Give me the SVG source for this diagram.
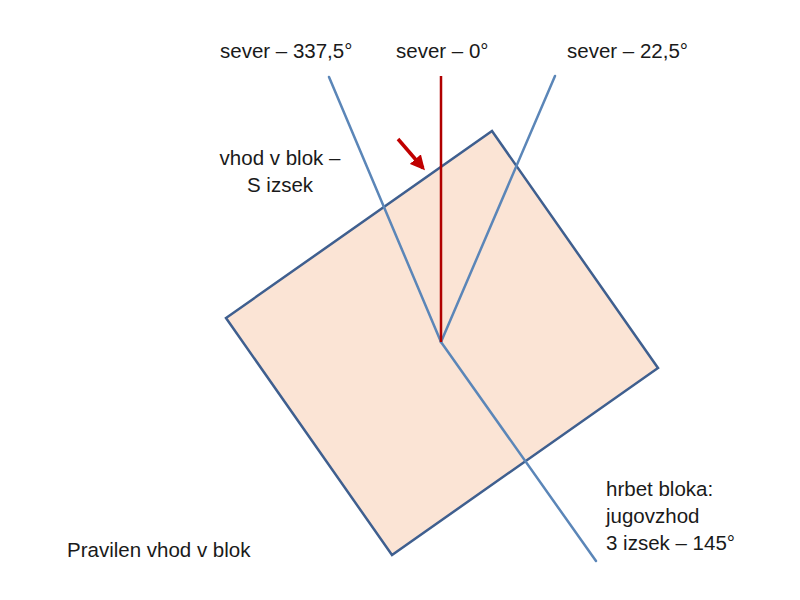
<svg xmlns="http://www.w3.org/2000/svg" width="800" height="600" viewBox="0 0 800 600">
  <style>
    .lbl { font-family: "Liberation Sans", Arial, sans-serif; font-size: 20.5px; fill: #1a1a1a; }
    .blue { stroke: #5b86b8; stroke-width: 2.5; fill: none; stroke-linecap: round; }
    .red { stroke: #b00000; stroke-width: 2.5; fill: none; }
  </style>
  <defs>
    <marker id="arrow" viewBox="0 0 10 10" refX="8" refY="5" markerWidth="4.2" markerHeight="4.2" orient="auto" markerUnits="strokeWidth">
      <path d="M0,0 L10,5 L0,10 Z" fill="#c00000"/>
    </marker>
  </defs>
  <rect width="800" height="600" fill="#ffffff"/>

  <g id="block">
    <polygon points="492,131 658,368 392,555 226,318" fill="#fbe4d5" stroke="#3f5f8f" stroke-width="2.5" stroke-linejoin="miter"/>
  </g>

  <g id="connectors">
    <line id="north-337" class="blue" x1="329" y1="77" x2="441" y2="342"/>
    <line id="north-22" class="blue" x1="555" y1="76" x2="441" y2="342"/>
    <line id="spine-145" class="blue" x1="441" y1="342" x2="596" y2="561"/>
    <line id="north-0" class="red" x1="441" y1="76" x2="441" y2="342"/>
    <line id="entry-arrow" stroke="#c00000" stroke-width="3.5" x1="398" y1="139" x2="423" y2="168" marker-end="url(#arrow)"/>
  </g>

  <g id="label-337">
    <text class="lbl" x="220" y="58">sever – 337,5°</text>
  </g>
  <g id="label-0">
    <text class="lbl" x="396" y="58">sever – 0°</text>
  </g>
  <g id="label-22">
    <text class="lbl" x="567" y="58">sever – 22,5°</text>
  </g>
  <g id="label-entry">
    <text class="lbl" x="280" y="165" text-anchor="middle">vhod v blok –</text>
    <text class="lbl" x="280" y="192" text-anchor="middle">S izsek</text>
  </g>
  <g id="label-spine">
    <text class="lbl" x="606" y="496">hrbet bloka:</text>
    <text class="lbl" x="606" y="523">jugovzhod</text>
    <text class="lbl" x="606" y="550">3 izsek – 145°</text>
  </g>
  <g id="label-title">
    <text class="lbl" x="67" y="557">Pravilen vhod v blok</text>
  </g>
</svg>
